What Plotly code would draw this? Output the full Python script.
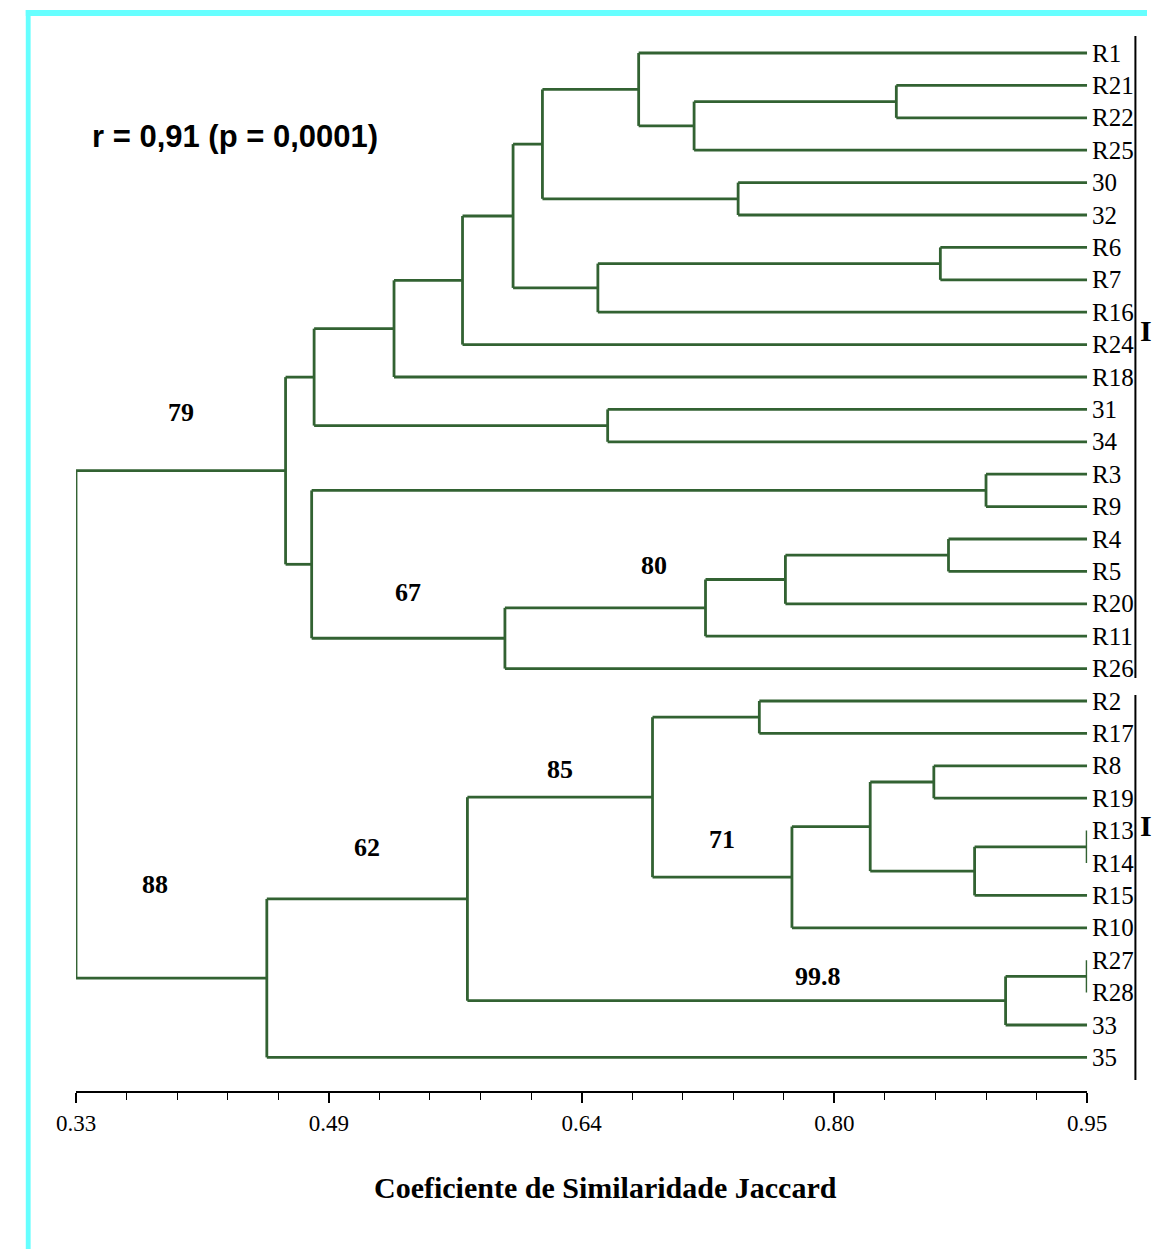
import plotly.graph_objects as go

# ---------------- data ----------------
leaves = ["R1", "R21", "R22", "R25", "30", "32", "R6", "R7", "R16", "R24",
          "R18", "31", "34", "R3", "R9", "R4", "R5", "R20", "R11", "R26",
          "R2", "R17", "R8", "R19", "R13", "R14", "R15", "R10", "R27", "R28",
          "33", "35"]

node_names = ["n1", "n2", "n3", "n4", "n5", "n6", "n7", "n8", "n9", "n10",
              "n11", "n12", "n13", "n14", "n15", "n16", "n17", "n18", "n19", "n20",
              "n21", "n22", "n23", "n24", "n25", "n26", "n27", "n28", "n29", "n30", "n31"]
node_left = ["R21", "n1", "R1", "30", "n3", "R6", "n6", "n5", "n8", "n9",
             "31", "n10", "R3", "R4", "n14", "n15", "n16", "n13", "n12", "R2",
             "R8", "R13", "n22", "n21", "n24", "n20", "R27", "n27", "n26", "n29", "n19"]
node_right = ["R22", "R25", "n2", "32", "n4", "R7", "R16", "n7", "R24", "R18",
              "34", "n11", "R9", "R5", "R20", "R11", "R26", "n17", "n18", "R17",
              "R19", "R14", "R15", "n23", "R10", "n25", "R28", "33", "n28", "35", "n30"]
node_sim = [0.833, 0.709, 0.675, 0.736, 0.616, 0.860, 0.650, 0.598, 0.567, 0.525,
            0.656, 0.476, 0.888, 0.865, 0.765, 0.716, 0.593, 0.4745, 0.4585, 0.749,
            0.856, 0.950, 0.881, 0.817, 0.769, 0.6835, 0.950, 0.900, 0.570, 0.447, 0.33]

support_nodes = ["n19", "n17", "n16", "n26", "n29", "n25", "n30", "n28"]
support_text = ["79", "67", "80", "85", "62", "71", "88", "99.8"]

tick_vals = [0.33, 0.485, 0.64, 0.795, 0.95]
tick_text = ["0.33", "0.49", "0.64", "0.80", "0.95"]

annotation_text = "r = 0,91 (p = 0,0001)"
axis_title = "Coeficiente de Similaridade Jaccard"
group_labels = ["I", "I"]   # as visible at the (cut) right edge of the reference

# ---------------- layout constants ----------------
W, H = 1167, 1249
Y0, STEP = 53.0, 32.4          # pixel of first leaf, pixel per leaf
X_LEFT, X_RIGHT = 58, 1105     # pixels of 0.33 and 0.95
LINE_COLOR = "#326232"

# ---------------- build tree geometry ----------------
ypos = {name: i for i, name in enumerate(leaves)}
xpos = {name: 0.95 for name in leaves}
parent = {}
for nm, l, r, s in zip(node_names, node_left, node_right, node_sim):
    ypos[nm] = (ypos[l] + ypos[r]) / 2.0
    xpos[nm] = s
    parent[l] = nm
    parent[r] = nm

xs, ys = [], []
for nm, l, r in zip(node_names, node_left, node_right):
    xs += [xpos[nm], xpos[nm], None]
    ys += [ypos[l], ypos[r], None]
for child, par in parent.items():
    xs += [xpos[child], xpos[par], None]
    ys += [ypos[child], ypos[child], None]

fig = go.Figure()
fig.add_trace(go.Scatter(x=xs, y=ys, mode="lines",
                         line=dict(color=LINE_COLOR, width=2.8),
                         hoverinfo="skip", showlegend=False, cliponaxis=False))

# leaf labels
for name in leaves:
    fig.add_annotation(x=0.95, y=ypos[name], xref="x", yref="y", text=name,
                       showarrow=False, xanchor="left", yanchor="middle", xshift=3,
                       font=dict(family="Liberation Serif", size=25, color="black"))

# support values
label_offsets = {"n19": (0.0, 1.8), "n17": (0.0, 1.4), "n16": (0.03, 1.3),
                 "n26": (0.0, 0.85), "n29": (0.0, 1.6), "n25": (0.0, 1.15),
                 "n30": (-0.01, 2.9), "n28": (0.05, 0.75)}
for nm, txt in zip(support_nodes, support_text):
    dx, dy = label_offsets[nm]
    xm = (xpos[nm] + xpos[parent[nm]]) / 2.0 + dx
    fig.add_annotation(x=xm, y=ypos[nm] - dy, xref="x", yref="y", text="<b>%s</b>" % txt,
                       showarrow=False, xanchor="center", yanchor="middle",
                       font=dict(family="Liberation Serif", size=26, color="black"))

# correlation annotation
fig.add_annotation(x=72 / W, y=1 - 137 / H, xref="paper", yref="paper",
                   text="<b>%s</b>" % annotation_text, showarrow=False,
                   xanchor="left", yanchor="middle",
                   font=dict(family="Liberation Sans", size=31, color="black"))

# axis title
fig.add_annotation(x=606 / W, y=1 - 1187 / H, xref="paper", yref="paper",
                   text="<b>%s</b>" % axis_title, showarrow=False,
                   xanchor="center", yanchor="middle",
                   font=dict(family="Liberation Serif", size=30, color="black"))

# group brackets
shapes = [
    dict(type="line", xref="paper", yref="paper", x0=1155 / W, x1=1155 / W,
         y0=1 - 36 / H, y1=1 - 678 / H, line=dict(color="black", width=2)),
    dict(type="line", xref="paper", yref="paper", x0=1155 / W, x1=1155 / W,
         y0=1 - 695 / H, y1=1 - 1080 / H, line=dict(color="black", width=2)),
    # cyan frame (left and top)
    dict(type="rect", xref="paper", yref="paper", x0=6 / W, x1=11 / W,
         y0=0, y1=1 - 10 / H, line=dict(width=0), fillcolor="#66FFFF"),
    dict(type="rect", xref="paper", yref="paper", x0=6 / W, x1=1,
         y0=1 - 16 / H, y1=1 - 10 / H, line=dict(width=0), fillcolor="#66FFFF"),
]
for lab, yc in zip(group_labels, [330, 825]):
    fig.add_annotation(x=1158 / W, y=1 - yc / H, xref="paper", yref="paper",
                       text="<b>%s</b>" % lab, showarrow=False,
                       xanchor="left", yanchor="middle",
                       font=dict(family="Liberation Serif", size=30, color="black"))

fig.update_layout(
    width=W, height=H, margin=dict(l=0, r=0, t=0, b=0),
    paper_bgcolor="white", plot_bgcolor="white", showlegend=False,
    shapes=shapes,
    xaxis=dict(domain=[X_LEFT / W, X_RIGHT / W], range=[0.33, 0.95],
               anchor="free", position=1 - 1092 / H,
               showgrid=False, zeroline=False,
               showline=True, linecolor="black", linewidth=2,
               tickmode="array", tickvals=tick_vals, ticktext=tick_text,
               ticks="outside", ticklen=10, tickwidth=1.5, tickcolor="black",
               tickfont=dict(family="Liberation Serif", size=23, color="black"),
               minor=dict(tickmode="linear", tick0=0.33, dtick=0.031,
                          ticks="outside", ticklen=7, tickwidth=1.2, tickcolor="black"),
               fixedrange=True),
    yaxis=dict(domain=[0, 1], range=[(H - Y0) / STEP, -Y0 / STEP],
               visible=False, fixedrange=True),
)

fig.write_html("out.html")
